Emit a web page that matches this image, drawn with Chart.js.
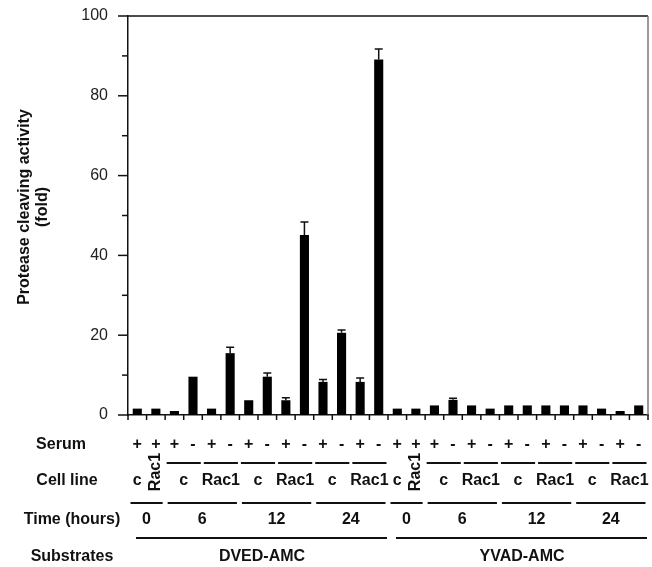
<!DOCTYPE html>
<html>
<head>
<meta charset="utf-8">
<script src="https://cdn.jsdelivr.net/npm/chart.js@4"></script>
<style>
  body { margin: 0; background: #fff; }
  canvas { display: block; }
</style>
</head>
<body>
<canvas id="chart" width="652" height="567"></canvas>
<script>
// --- data ---
const substrates = ['DVED-AMC', 'DVED-AMC', 'DVED-AMC', 'DVED-AMC', 'DVED-AMC', 'DVED-AMC', 'DVED-AMC',
                    'DVED-AMC', 'DVED-AMC', 'DVED-AMC', 'DVED-AMC', 'DVED-AMC', 'DVED-AMC', 'DVED-AMC',
                    'YVAD-AMC', 'YVAD-AMC', 'YVAD-AMC', 'YVAD-AMC', 'YVAD-AMC', 'YVAD-AMC', 'YVAD-AMC',
                    'YVAD-AMC', 'YVAD-AMC', 'YVAD-AMC', 'YVAD-AMC', 'YVAD-AMC', 'YVAD-AMC', 'YVAD-AMC'];
const times = ['0', '0', '6', '6', '6', '6', '12', '12', '12', '12', '24', '24', '24', '24',
               '0', '0', '6', '6', '6', '6', '12', '12', '12', '12', '24', '24', '24', '24'];
const cellLines = ['c', 'Rac1', 'c', 'c', 'Rac1', 'Rac1', 'c', 'c', 'Rac1', 'Rac1', 'c', 'c', 'Rac1', 'Rac1',
                   'c', 'Rac1', 'c', 'c', 'Rac1', 'Rac1', 'c', 'c', 'Rac1', 'Rac1', 'c', 'c', 'Rac1', 'Rac1'];
const serum = ['+', '+', '+', '-', '+', '-', '+', '-', '+', '-', '+', '-', '+', '-',
               '+', '+', '+', '-', '+', '-', '+', '-', '+', '-', '+', '-', '+', '-'];
const activity = [1.6, 1.6, 1.0, 9.6, 1.6, 15.5, 3.7, 9.6, 3.7, 45.1, 8.3, 20.6, 8.3, 89.1,
                  1.6, 1.6, 2.4, 3.8, 2.4, 1.6, 2.4, 2.4, 2.4, 2.4, 2.4, 1.6, 1.0, 2.4];
const errors = [0, 0, 0, 0, 0, 1.5, 0, 0.9, 0.6, 3.3, 0.6, 0.7, 1.0, 2.6,
                0, 0, 0, 0.4, 0, 0, 0, 0, 0, 0, 0, 0, 0, 0];
const yTicks = [0, 20, 40, 60, 80, 100];

const labels = activity.map((_, i) => `${substrates[i]} ${times[i]}h ${cellLines[i]} ${serum[i]}`);
const INK = '#111';
const FONT = '"Liberation Sans", Arial, Helvetica, sans-serif';

// group consecutive bars sharing the given key
function runs(keyFn) {
    const out = [];
    labels.forEach((_, i) => {
        const k = keyFn(i);
        const last = out[out.length - 1];
        if (last && last.key === k) last.to = i;
        else out.push({ key: k, from: i, to: i });
    });
    return out;
}

const framePlugin = {
    id: 'frame',
    afterDatasetsDraw(chart) {
        const { ctx, chartArea: a, scales: { y } } = chart;
        const meta = chart.getDatasetMeta(0);
        ctx.save();
        ctx.strokeStyle = INK;
        ctx.lineWidth = 1.5;
        // error bars
        activity.forEach((v, i) => {
            if (!errors[i]) return;
            const bx = meta.data[i].x;
            const yt = y.getPixelForValue(v + errors[i]);
            ctx.beginPath();
            ctx.moveTo(bx, y.getPixelForValue(v));
            ctx.lineTo(bx, yt);
            ctx.moveTo(bx - 4, yt);
            ctx.lineTo(bx + 4, yt);
            ctx.stroke();
        });
        // top + right frame
        ctx.beginPath();
        ctx.moveTo(a.left, a.top);
        ctx.lineTo(a.right, a.top);
        ctx.stroke();
        ctx.strokeStyle = '#777';
        ctx.beginPath();
        ctx.moveTo(a.right, a.top);
        ctx.lineTo(a.right, a.bottom);
        ctx.stroke();
        // y ticks, long on labelled values
        ctx.strokeStyle = INK;
        for (let v = 0; v <= 100; v += 10) {
            const py = y.getPixelForValue(v);
            const len = yTicks.includes(v) ? 10 : 6;
            ctx.beginPath();
            ctx.moveTo(a.left - len, py);
            ctx.lineTo(a.left, py);
            ctx.stroke();
        }
        // x ticks between bars
        const step = (a.right - a.left) / labels.length;
        for (let k = 0; k <= labels.length; k++) {
            const px = a.left + k * step;
            ctx.beginPath();
            ctx.moveTo(px, a.bottom);
            ctx.lineTo(px, a.bottom + 5);
            ctx.stroke();
        }
        ctx.restore();
    },
    afterDraw(chart) {
        const { ctx, chartArea: a, scales: { x } } = chart;
        const half = (a.right - a.left) / labels.length / 2;
        const cx = i => x.getPixelForValue(i);
        ctx.save();
        ctx.fillStyle = INK;
        ctx.strokeStyle = INK;
        ctx.lineWidth = 2;
        ctx.textAlign = 'center';
        ctx.textBaseline = 'middle';
        ctx.font = `bold 16px ${FONT}`;

        // y axis title
        ctx.save();
        ctx.translate(25, 207);
        ctx.rotate(-Math.PI / 2);
        ctx.fillText('Protease cleaving activity', 0, 0);
        ctx.fillText('(fold)', 0, 18);
        ctx.restore();

        // row labels
        ctx.fillText('Serum', 61, 445);
        ctx.fillText('Cell line', 67, 481);
        ctx.fillText('Time (hours)', 72, 520);
        ctx.fillText('Substrates', 72, 557);

        // serum signs
        serum.forEach((s, i) => ctx.fillText(s, cx(i), 445));

        const bar = (r, yy, l, rt) => {
            ctx.beginPath();
            ctx.moveTo(cx(r.from) - half + l, yy);
            ctx.lineTo(cx(r.to) + half - rt, yy);
            ctx.stroke();
        };

        // cell lines
        runs(i => substrates[i] + times[i] + cellLines[i]).forEach(r => {
            const mid = (cx(r.from) + cx(r.to)) / 2;
            const name = cellLines[r.from];
            if (r.from === r.to) {
                if (name === 'Rac1') {
                    ctx.save();
                    ctx.translate(mid, 472);
                    ctx.rotate(-Math.PI / 2);
                    ctx.fillText(name, 0, 0);
                    ctx.restore();
                } else {
                    ctx.fillText(name, mid, 481);
                }
                return;
            }
            bar(r, 463, 1.5, 1.5);
            ctx.fillText(name, mid, 481);
        });

        // times
        runs(i => substrates[i] + times[i]).forEach(r => {
            bar(r, 503, 2.5, 2.5);
            ctx.fillText(times[r.from], (cx(r.from) + cx(r.to)) / 2, 520);
        });

        // substrates
        runs(i => substrates[i]).forEach(r => {
            bar(r, 538, 8, 1);
            ctx.fillText(substrates[r.from], (cx(r.from) + cx(r.to)) / 2 + 4, 557);
        });
        ctx.restore();
    }
};

new Chart(document.getElementById('chart'), {
    type: 'bar',
    data: {
        labels: labels,
        datasets: [{
            data: activity,
            backgroundColor: '#000',
            borderWidth: 0,
            categoryPercentage: 1,
            barPercentage: 0.49
        }]
    },
    options: {
        responsive: false,
        animation: false,
        layout: { padding: { top: 16, right: 4, left: 0, bottom: 0 } },
        plugins: { legend: { display: false }, tooltip: { enabled: false } },
        scales: {
            x: {
                grid: { display: false },
                border: { display: true, color: INK, width: 1.5 },
                ticks: { display: false },
                afterFit: s => { s.height = 152; }
            },
            y: {
                min: 0,
                max: 100,
                grid: { display: false },
                border: { display: true, color: INK, width: 1.5 },
                ticks: {
                    stepSize: 20,
                    padding: 12,
                    color: '#222',
                    font: { family: FONT, size: 16 }
                },
                afterFit: s => { s.width = 128; s.paddingTop = 0; s.paddingBottom = 0; }
            }
        }
    },
    plugins: [framePlugin]
});
</script>
</body>
</html>
